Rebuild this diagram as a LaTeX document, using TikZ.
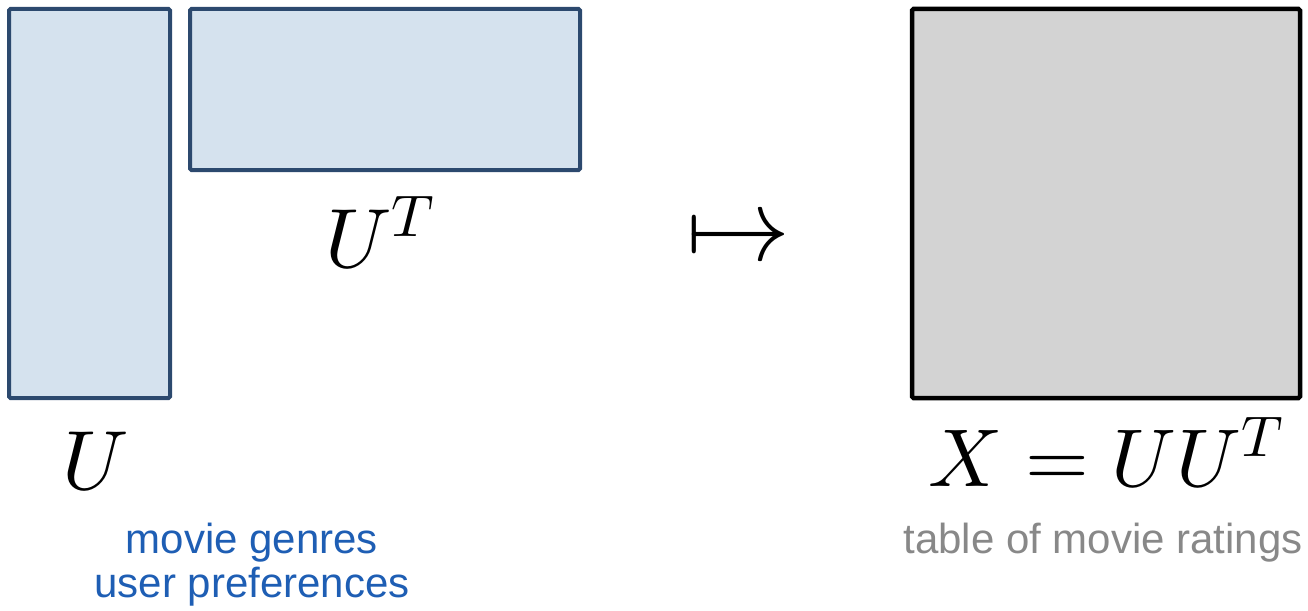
\documentclass[tikz,border=0pt]{standalone}
\usepackage{fix-cm}
\usepackage{fontspec}
\setsansfont{Liberation Sans}
% large math drawn from the 10pt design sizes, scaled freely
\DeclareFontShape{OML}{cmm}{m}{it}{<->cmmi10}{}
\DeclareFontShape{OT1}{cmr}{m}{n}{<->cmr10}{}
\DeclareFontShape{OMS}{cmsy}{m}{n}{<->cmsy10}{}
\definecolor{factfill}{RGB}{213,226,238}
\definecolor{factline}{RGB}{44,73,110}
\definecolor{prodfill}{RGB}{211,211,211}
\definecolor{notecol}{RGB}{30,94,180}
\definecolor{graycol}{RGB}{136,136,136}
\begin{document}
\begin{tikzpicture}[x=1pt,y=-1pt,
  factor/.style={draw=factline,fill=factfill,line width=4pt,rounded corners=1.5pt},
  product/.style={draw=black,fill=prodfill,line width=4.5pt,rounded corners=1.5pt},
  mathlbl/.style={inner sep=0pt,anchor=base,font=\fontsize{84}{100}\selectfont},
  note/.style={inner sep=0pt,anchor=base,font=\sffamily\fontsize{42}{50}\selectfont}]
\useasboundingbox (0,0) rectangle (1308,610);
% factor matrices
\draw[factor] (9,9) rectangle (170,398);
\draw[factor] (190,9) rectangle (580,170);
% resulting matrix
\draw[product] (912,9) rectangle (1300,398);
% labels
\node[mathlbl] (u) at (96,489) {$U$};
\node[mathlbl] (ut) at (380,267) {$U^T$};
\node[inner sep=0pt,font=\fontsize{104}{120}\selectfont] (map) at (738,241) {$\mapsto$};
\node[mathlbl,font=\fontsize{82}{98}\selectfont] (x) at (1106,486) {$X=UU^T$};
\node[note,text=notecol] (g1) at (252,553) {movie genres};
\node[note,text=notecol] (g2) at (252,597) {user preferences};
\node[note,text=graycol] (t) at (1103,553) {table of movie ratings};
\end{tikzpicture}
\end{document}
